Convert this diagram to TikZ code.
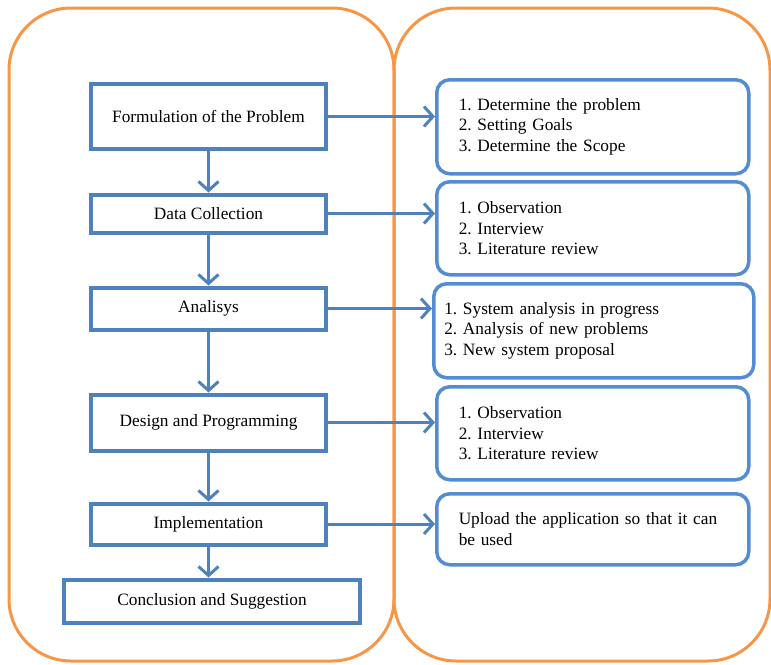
\documentclass[tikz,border=0pt]{standalone}
\usepackage{fontspec}
\setmainfont{Liberation Serif}
\usetikzlibrary{arrows.meta}
\frenchspacing
\definecolor{orng}{RGB}{247,150,70}
\definecolor{bluel}{RGB}{79,129,189}
\definecolor{bluer}{RGB}{84,140,212}
\tikzset{
  panel/.style={draw=orng, line width=3pt, rounded corners=62pt},
  stepbox/.style={draw=bluel, line width=4pt, rectangle, align=center, inner sep=0pt, font=\fontsize{17.3}{20}\selectfont},
  infobox/.style={draw=bluer, line width=3.5pt, rounded corners=13pt, align=left, inner ysep=0pt, anchor=north west, font=\fontsize{17.3}{20.5}\selectfont},
  flow/.style={draw=bluel, line width=3pt, -{Straight Barb[length=9pt,width=20pt,line width=3pt]}},
}
\begin{document}
\begin{tikzpicture}[x=1pt,y=-1pt]
\useasboundingbox (0,0) rectangle (771,664);
% orange panels
\draw[panel] (9,8) rectangle (394,661);
\draw[panel] (394,8) rectangle (770,661);
% left step boxes
\node[stepbox, minimum width=235pt, minimum height=65pt] (f) at (208.5,116.5) {Formulation of the Problem};
\node[stepbox, minimum width=235pt, minimum height=38pt] (d) at (208.5,213.5) {Data Collection};
\node[stepbox, minimum width=235pt, minimum height=42pt] (a) at (208.5,308.5) {Analisys};
\node[stepbox, minimum width=235pt, minimum height=56pt] (g) at (208.5,422.5) {Design and Programming};
\node[stepbox, minimum width=235pt, minimum height=41pt] (i) at (208.5,524) {Implementation};
\node[stepbox, minimum width=296pt, minimum height=43pt] (c) at (212,601) {Conclusion and Suggestion};
% right info boxes
\node[infobox, text width=268pt, inner xsep=22pt, minimum height=94pt] (r1) at (435,78)
  {1. Determine the problem\\2. Setting Goals\\3. Determine the Scope};
\node[infobox, text width=268pt, inner xsep=22pt, minimum height=93pt] (r2) at (435,180)
  {1. Observation\\2. Interview\\3. Literature review};
\node[infobox, text width=299pt, inner xsep=10.5pt, minimum height=94pt] (r3) at (432,282)
  {1. System analysis in progress\\2. Analysis of new problems\\3. New system proposal};
\node[infobox, text width=268pt, inner xsep=22pt, minimum height=93pt] (r4) at (435,385)
  {1. Observation\\2. Interview\\3. Literature review};
\node[infobox, text width=268pt, inner xsep=22pt, minimum height=71pt] (r5) at (435,492)
  {Upload the application so that it can\\be used};
% vertical flow
\draw[flow] (f.south) -- (d.north);
\draw[flow] (d.south) -- (a.north);
\draw[flow] (a.south) -- (g.north);
\draw[flow] (g.south) -- (i.north);
\draw[flow] (i.south) -- (c.north -| i.south);
% horizontal flow
\draw[flow] (f.east) -- (f.east -| r1.west);
\draw[flow] (d.east) -- (d.east -| r2.west);
\draw[flow] (a.east) -- (a.east -| r3.west);
\draw[flow] (g.east) -- (g.east -| r4.west);
\draw[flow] (i.east) -- (i.east -| r5.west);
\end{tikzpicture}
\end{document}
